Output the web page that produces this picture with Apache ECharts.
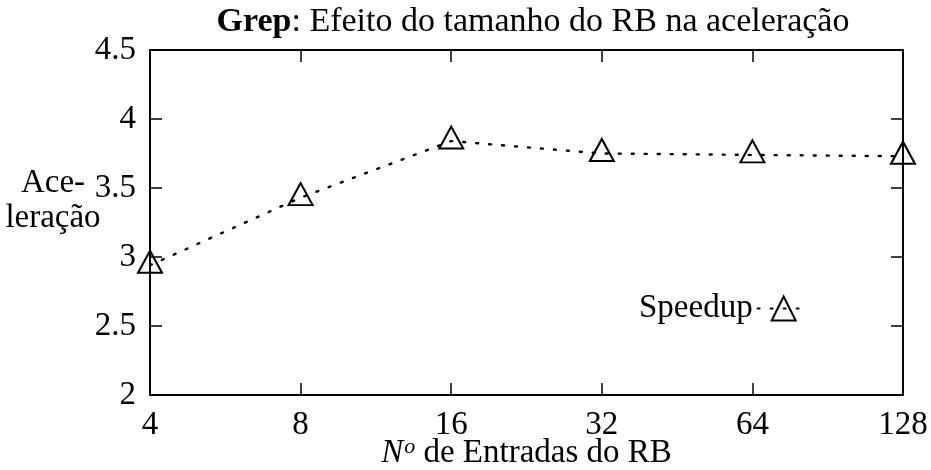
<!DOCTYPE html>
<html>
<head>
<meta charset="utf-8">
<script src="https://cdn.jsdelivr.net/npm/echarts@6/dist/echarts.min.js"></script>
<style>
  html, body { margin: 0; padding: 0; background: #fff; }
  #chart { width: 931px; height: 470px; }
</style>
</head>
<body>
<div id="chart"></div>
<script>
// Number of RB entries (log2-spaced categories) and measured speedup
const entries = ['4', '8', '16', '32', '64', '128'];
const speedup = [2.94, 3.43, 3.84, 3.75, 3.74, 3.73];
const yTicks = { min: 2, max: 4.5, interval: 0.5 };

const FONT = '"Liberation Serif", "DejaVu Serif", serif';
const FS = 33;

const chart = echarts.init(document.getElementById('chart'), null, { renderer: 'canvas' });

const tickStyle = { show: true, inside: true, length: 12, lineStyle: { color: '#000', width: 1.5 } };
const axisLine = { show: true, onZero: false, lineStyle: { color: '#000', width: 2 } };

chart.setOption({
  animation: false,
  backgroundColor: '#fff',
  textStyle: { fontFamily: FONT, color: '#000' },
  title: {
    text: '{b|Grep}: Efeito do tamanho do RB na aceleração',
    left: 528, textAlign: 'center', top: 0,
    textStyle: {
      fontFamily: FONT, fontSize: 34, fontWeight: 'normal', color: '#000',
      rich: { b: { fontFamily: FONT, fontSize: 34, fontWeight: 'bold', color: '#000' } }
    }
  },
  legend: {
    data: ['Speedup'],
    left: 634, top: 287,
    align: 'right',
    itemWidth: 52, itemHeight: 30, itemGap: 8,
    textStyle: { fontFamily: FONT, fontSize: FS, color: '#000', padding: [0, 0, 0, 0] }
  },
  grid: { left: 150, right: 28, top: 50, bottom: 75, containLabel: false, outerBoundsMode: 'none' },
  xAxis: [
    {
      type: 'category', data: entries, boundaryGap: false, position: 'bottom',
      axisLine: axisLine, axisTick: tickStyle,
      axisLabel: { fontFamily: FONT, fontSize: FS, color: '#000', margin: 30, verticalAlign: 'middle', lineHeight: 24 },
      splitLine: { show: false },
      name: '{i|N}{s|o} de Entradas do RB',
      nameLocation: 'middle', nameGap: 58, nameMoveOverlap: false,
      nameTextStyle: {
        fontFamily: FONT, fontSize: FS, color: '#000', verticalAlign: 'middle',
        rich: {
          i: { fontFamily: FONT, fontSize: FS, fontStyle: 'italic', color: '#000' },
          s: { fontFamily: FONT, fontSize: 22, fontStyle: 'italic', color: '#000', verticalAlign: 'top', padding: [0, 0, 12, 1] }
        }
      }
    },
    {
      type: 'category', data: entries, boundaryGap: false, position: 'top',
      axisLine: axisLine, axisTick: tickStyle, axisLabel: { show: false }, splitLine: { show: false }
    }
  ],
  yAxis: [
    {
      type: 'value', min: yTicks.min, max: yTicks.max, interval: yTicks.interval, position: 'left',
      axisLine: axisLine, axisTick: tickStyle,
      axisLabel: { fontFamily: FONT, fontSize: FS, color: '#000', margin: 14 },
      splitLine: { show: false }
    },
    {
      type: 'value', min: yTicks.min, max: yTicks.max, interval: yTicks.interval, position: 'right',
      axisLine: axisLine, axisTick: tickStyle, axisLabel: { show: false }, splitLine: { show: false }
    }
  ],
  graphic: [
    {
      type: 'text', x: 53, y: 201,
      style: {
        text: 'Ace-\nleração', fill: '#000', fontFamily: FONT, fontSize: FS,
        align: 'center', verticalAlign: 'middle', lineHeight: 35
      }
    }
  ],
  series: [
    {
      name: 'Speedup',
      type: 'line',
      data: speedup,
      xAxisIndex: 0, yAxisIndex: 0,
      symbol: 'triangle',
      symbolSize: [24, 22],
      symbolOffset: [0, -3.5],
      showAllSymbol: true,
      clip: false,
      itemStyle: { color: 'rgba(0,0,0,0)', borderColor: '#000', borderWidth: 2 },
      lineStyle: { color: '#000', width: 2.4, type: [2, 11], cap: 'round' },
      emphasis: { disabled: true }
    }
  ]
});
</script>
</body>
</html>
